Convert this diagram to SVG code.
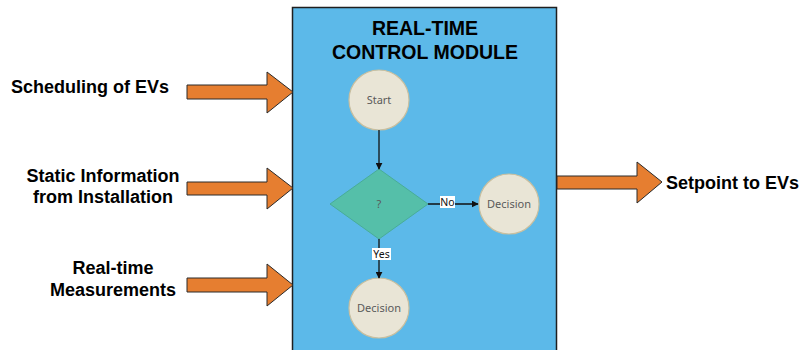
<svg xmlns="http://www.w3.org/2000/svg" width="804" height="350" viewBox="0 0 804 350">
  <style>
    .lbl { font-family: "Liberation Sans", Arial, sans-serif; font-weight: bold; font-size: 18px; fill: #000; }
    .title { font-family: "Liberation Sans", Arial, sans-serif; font-weight: bold; font-size: 19.5px; fill: #000; text-anchor: middle; }
    .big-arrow { fill: #E67E30; stroke: #2a2a2a; stroke-width: 1; stroke-linejoin: miter; }
    .node { fill: #E9E5D6; stroke: #C9BF9F; stroke-width: 1.2; }
    .node-txt { font-family: "Noto Sans", "DejaVu Sans", sans-serif; font-size: 11px; fill: #5a5a5a; text-anchor: middle; }
    .flow { stroke: #111; stroke-width: 1.3; fill: none; marker-end: url(#tip); }
    .edge-lbl { font-family: "Noto Sans", "DejaVu Sans", sans-serif; font-size: 10.5px; fill: #111; text-anchor: middle; }
  </style>
  <defs>
    <marker id="tip" viewBox="0 0 10 10" refX="9" refY="5" markerWidth="7" markerHeight="7" markerUnits="userSpaceOnUse" orient="auto">
      <path d="M0,0 L10,5 L0,10 z" fill="#111"/>
    </marker>
  </defs>

  <rect width="804" height="350" fill="#fff"/>

  <!-- control module container -->
  <g id="module">
    <rect x="292.5" y="7.5" width="264" height="345" fill="#5CB9E9" stroke="#1f1f1f" stroke-width="1.5"/>
    <text class="title" x="425" y="35">REAL-TIME</text>
    <text class="title" x="425" y="59">CONTROL MODULE</text>
  </g>

  <!-- input / output labels and block arrows -->
  <g id="in-scheduling">
    <text class="lbl" x="11" y="93">Scheduling of EVs</text>
    <path class="big-arrow" d="M187,85 H267 V72 L293,92 L267,113 V99 H187 Z"/>
  </g>
  <g id="in-static">
    <text class="lbl" x="103" y="182" text-anchor="middle">Static Information</text>
    <text class="lbl" x="103" y="203" text-anchor="middle">from Installation</text>
    <path class="big-arrow" d="M187,182 H267 V168 L293,188 L267,209 V195 H187 Z"/>
  </g>
  <g id="in-measurements">
    <text class="lbl" x="113" y="274" text-anchor="middle">Real-time</text>
    <text class="lbl" x="113" y="296" text-anchor="middle">Measurements</text>
    <path class="big-arrow" d="M187,278 H267 V264 L293,285 L267,306 V292 H187 Z"/>
  </g>
  <g id="out-setpoint">
    <path class="big-arrow" d="M557,176 H637 V162 L662,182 L637,203 V189 H557 Z"/>
    <text class="lbl" x="666" y="189">Setpoint to EVs</text>
  </g>

  <!-- flowchart nodes -->
  <g id="start">
    <circle class="node" cx="379" cy="100" r="30"/>
    <text class="node-txt" x="379" y="104">Start</text>
  </g>
  <g id="check">
    <path d="M379,169 L428,204 L379,239 L330,204 Z" fill="#55BFA9" stroke="#48AD97" stroke-width="1"/>
    <text class="node-txt" x="379" y="208" fill="#333">?</text>
  </g>
  <g id="decision-no">
    <circle class="node" cx="509" cy="204" r="30"/>
    <text class="node-txt" x="509" y="208">Decision</text>
  </g>
  <g id="decision-yes">
    <circle class="node" cx="379" cy="308" r="30"/>
    <text class="node-txt" x="379" y="312">Decision</text>
  </g>

  <!-- connectors -->
  <g id="connectors">
    <line class="flow" x1="379" y1="130" x2="379" y2="169"/>
    <line class="flow" x1="428" y1="204" x2="478" y2="204"/>
    <line class="flow" x1="379" y1="239" x2="379" y2="278"/>
    <rect x="440" y="196" width="15" height="12" fill="#fff"/>
    <text class="edge-lbl" x="447.5" y="206">No</text>
    <rect x="372" y="248" width="19" height="12" fill="#fff"/>
    <text class="edge-lbl" x="381.5" y="258">Yes</text>
  </g>
</svg>
